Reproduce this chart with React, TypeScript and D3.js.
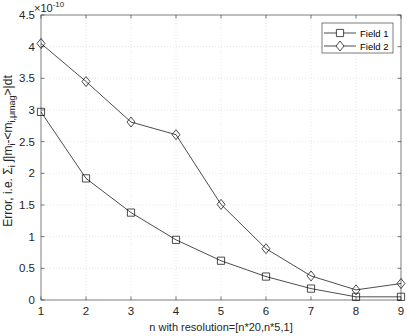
import React, { useRef, useEffect } from "react";
import * as d3 from "d3";

const nValues = [1, 2, 3, 4, 5, 6, 7, 8, 9];
const field1 = [2.97, 1.92, 1.38, 0.95, 0.62, 0.37, 0.18, 0.05, 0.05];
const field2 = [4.05, 3.45, 2.81, 2.61, 1.51, 0.81, 0.38, 0.16, 0.26];
const yTicks = [0, 0.5, 1, 1.5, 2, 2.5, 3, 3.5, 4, 4.5];
const seriesNames = ["Field 1", "Field 2"];

export default function App() {
  const svgRef = useRef<SVGSVGElement>(null);

  useEffect(() => {
    const w = 407;
    const h = 336;
    const m = { left: 41, right: 6, top: 15, bottom: 36 };
    const svg = d3.select(svgRef.current);
    svg.selectAll("*").remove();
    svg.attr("width", w).attr("height", h);
    svg.append("rect").attr("width", w).attr("height", h).attr("fill", "#fff");

    const x = d3.scaleLinear().domain([1, 9]).range([m.left, w - m.right]);
    const y = d3.scaleLinear().domain([0, 4.5]).range([h - m.bottom, m.top]);
    const font = "Liberation Sans, Arial, sans-serif";

    // grid
    const grid = svg.append("g").attr("stroke", "#dedede").attr("stroke-dasharray", "1,2").attr("stroke-width", 0.8);
    nValues.slice(1, -1).forEach((n) => {
      grid.append("line").attr("x1", x(n)).attr("x2", x(n)).attr("y1", y(0)).attr("y2", y(4.5));
    });
    yTicks.slice(1, -1).forEach((t) => {
      grid.append("line").attr("x1", x(1)).attr("x2", x(9)).attr("y1", y(t)).attr("y2", y(t));
    });

    // box
    svg.append("rect")
      .attr("x", x(1)).attr("y", y(4.5))
      .attr("width", x(9) - x(1)).attr("height", y(0) - y(4.5))
      .attr("fill", "none").attr("stroke", "#262626").attr("stroke-width", 0.6);

    const ax = svg.append("g").attr("font-family", font).attr("font-size", 11.5).attr("fill", "#262626");
    nValues.forEach((n) => {
      ax.append("line").attr("x1", x(n)).attr("x2", x(n)).attr("y1", y(0)).attr("y2", y(0) - 3.5).attr("stroke", "#262626").attr("stroke-width", 0.6);
      ax.append("line").attr("x1", x(n)).attr("x2", x(n)).attr("y1", y(4.5)).attr("y2", y(4.5) + 3.5).attr("stroke", "#262626").attr("stroke-width", 0.6);
      ax.append("text").attr("x", x(n)).attr("y", y(0) + 15).attr("text-anchor", "middle").text(n);
    });
    yTicks.forEach((t) => {
      ax.append("line").attr("x1", x(1)).attr("x2", x(1) + 3.5).attr("y1", y(t)).attr("y2", y(t)).attr("stroke", "#262626").attr("stroke-width", 0.6);
      ax.append("line").attr("x1", x(9)).attr("x2", x(9) - 3.5).attr("y1", y(t)).attr("y2", y(t)).attr("stroke", "#262626").attr("stroke-width", 0.6);
      ax.append("text").attr("x", x(1) - 6).attr("y", y(t) + 4).attr("text-anchor", "end").text(String(t));
    });

    // exponent
    const ex = svg.append("text").attr("x", 34).attr("y", 12)
      .attr("text-anchor", "start").attr("font-family", font).attr("font-size", 11).attr("fill", "#262626");
    ex.append("tspan").text("×10");
    ex.append("tspan").attr("font-size", 8).attr("dy", -5).text("-10");

    // x label
    ax.append("text").attr("x", (x(1) + x(9)) / 2).attr("y", h - 5).attr("text-anchor", "middle").attr("font-size", 11).text("n with resolution=[n*20,n*5,1]");

    // y label
    const yl = ax.append("text")
      .attr("transform", `translate(12,151) rotate(-90)`)
      .attr("text-anchor", "middle")
      .attr("font-size", 12);
    yl.append("tspan").text("Error, i.e. Σ");
    yl.append("tspan").attr("font-size", 9).attr("dy", 3).text("i");
    yl.append("tspan").attr("dy", -3).text(" ∫|m");
    yl.append("tspan").attr("font-size", 9).attr("dy", 3).text("i");
    yl.append("tspan").attr("dy", -3).text("-<m");
    yl.append("tspan").attr("font-size", 9).attr("dy", 3).text("i,μmag");
    yl.append("tspan").attr("dy", -3).text(">|dt");

    const line = d3.line<number>().x((_, i) => x(nValues[i])).y((d) => y(d));
    const sq = d3.symbol().type(d3.symbolSquare).size(52);
    const dia = (cx: number, cy: number) => `M${cx},${cy - 5}L${cx + 4},${cy}L${cx},${cy + 5}L${cx - 4},${cy}Z`;

    [field1, field2].forEach((data, k) => {
      svg.append("path").datum(data).attr("d", line).attr("fill", "none").attr("stroke", "#000").attr("stroke-width", 0.7);
      data.forEach((d, i) => {
        const px = x(nValues[i]);
        const py = y(d);
        svg.append("path")
          .attr("d", k === 0 ? sq() : dia(0, 0))
          .attr("transform", `translate(${px},${py})`)
          .attr("fill", "none").attr("stroke", "#000").attr("stroke-width", 0.7);
      });
    });

    // legend
    const lg = svg.append("g");
    lg.append("rect").attr("x", 322).attr("y", 23).attr("width", 71).attr("height", 30)
      .attr("fill", "#fff").attr("stroke", "#262626").attr("stroke-width", 0.6);
    seriesNames.forEach((name, k) => {
      const ly = 33 + k * 13;
      lg.append("line").attr("x1", 324).attr("x2", 356).attr("y1", ly).attr("y2", ly).attr("stroke", "#000").attr("stroke-width", 0.7);
      lg.append("path").attr("d", k === 0 ? sq() : dia(0, 0)).attr("transform", `translate(340,${ly})`)
        .attr("fill", "#fff").attr("stroke", "#000").attr("stroke-width", 0.7);
      lg.append("text").attr("x", 360).attr("y", ly + 3.5).attr("font-family", font).attr("font-size", 9.5).attr("fill", "#000").text(name);
    });
  }, []);

  return (
    <div style={{ position: "absolute", left: 0, top: 0 }}>
      <svg ref={svgRef}></svg>
    </div>
  );
}
